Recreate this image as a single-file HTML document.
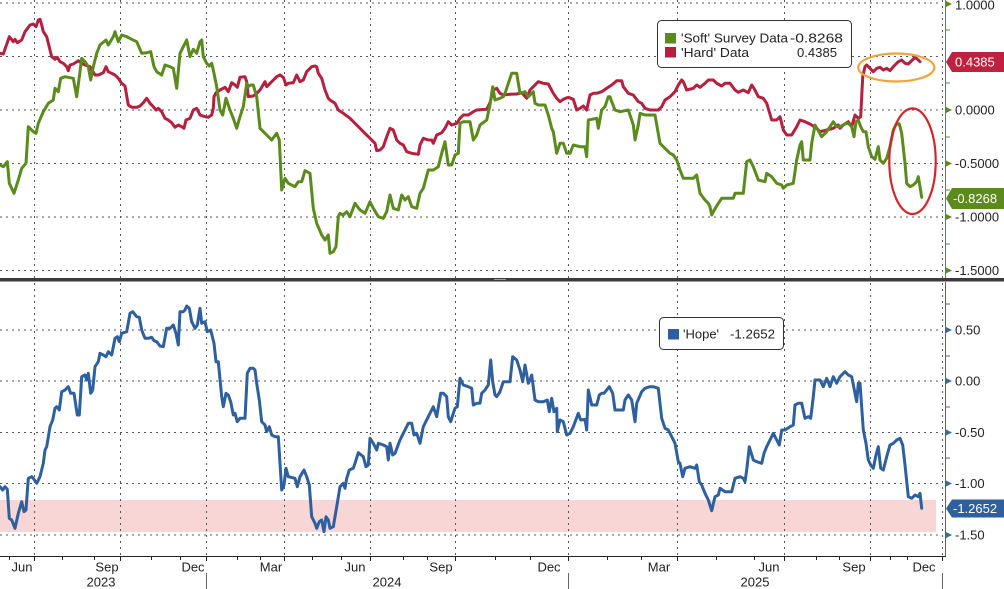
<!DOCTYPE html>
<html>
<head>
<meta charset="utf-8">
<style>
  html,body{margin:0;padding:0;background:#fff;}
  svg{display:block;}
  text{font-family:"Liberation Sans", "DejaVu Sans", sans-serif;}
</style>
</head>
<body>
<svg width="1004" height="589" viewBox="0 0 1004 589" xmlns="http://www.w3.org/2000/svg">
  <rect x="0" y="0" width="1004" height="589" fill="#ffffff"/>

  <rect x="0" y="500" width="936" height="32" fill="#f9d6d6"/>

  <g stroke="#555" stroke-width="1" stroke-dasharray="2 4" fill="none">
    <line x1="0" y1="3" x2="942" y2="3"/>
    <line x1="0" y1="56.5" x2="942" y2="56.5"/>
    <line x1="0" y1="110" x2="942" y2="110"/>
    <line x1="0" y1="163.5" x2="942" y2="163.5"/>
    <line x1="0" y1="217" x2="942" y2="217"/>
    <line x1="0" y1="270.5" x2="942" y2="270.5"/>
    <line x1="0" y1="330" x2="942" y2="330"/>
    <line x1="0" y1="381" x2="942" y2="381"/>
    <line x1="0" y1="432.5" x2="942" y2="432.5"/>
    <line x1="0" y1="483.5" x2="942" y2="483.5"/>
    <line x1="0" y1="535" x2="942" y2="535"/>
    <line x1="34.5" y1="0" x2="34.5" y2="278"/>
    <line x1="120.5" y1="0" x2="120.5" y2="278"/>
    <line x1="206.5" y1="0" x2="206.5" y2="278"/>
    <line x1="284.5" y1="0" x2="284.5" y2="278"/>
    <line x1="370.5" y1="0" x2="370.5" y2="278"/>
    <line x1="455.5" y1="0" x2="455.5" y2="278"/>
    <line x1="568.5" y1="0" x2="568.5" y2="278"/>
    <line x1="677.5" y1="0" x2="677.5" y2="278"/>
    <line x1="784.5" y1="0" x2="784.5" y2="278"/>
    <line x1="870.5" y1="0" x2="870.5" y2="278"/>
    <line x1="942.5" y1="0" x2="942.5" y2="278"/>
    <line x1="34.5" y1="283" x2="34.5" y2="556"/>
    <line x1="120.5" y1="283" x2="120.5" y2="556"/>
    <line x1="206.5" y1="283" x2="206.5" y2="556"/>
    <line x1="284.5" y1="283" x2="284.5" y2="556"/>
    <line x1="370.5" y1="283" x2="370.5" y2="556"/>
    <line x1="455.5" y1="283" x2="455.5" y2="556"/>
    <line x1="568.5" y1="283" x2="568.5" y2="556"/>
    <line x1="677.5" y1="283" x2="677.5" y2="556"/>
    <line x1="784.5" y1="283" x2="784.5" y2="556"/>
    <line x1="870.5" y1="283" x2="870.5" y2="556"/>
    <line x1="942.5" y1="283" x2="942.5" y2="556"/>
  </g>

  <rect x="0" y="278" width="1004" height="3.5" fill="#3c3c3c"/>
  <rect x="494" y="279" width="12" height="1" fill="#999"/>
  <rect x="494" y="281" width="12" height="1" fill="#999"/>

  <polyline fill="none" stroke="#b5203f" stroke-width="3" stroke-linejoin="round" stroke-linecap="round"
    points="0,53.3 3.3,54 9.3,36.7 13.3,41.7 15,39.3 17.3,42.7 21.7,40 25,31.7 30,25 33.3,24 36,26.7 38.3,20 40,19.3 41.7,25 43.3,31.7 46.7,36.7 50,50 51.7,56.7 55,59.3 57.3,57.3 60,61.7 63.3,63.3 66.7,66.7 68.3,70.7 70,65 73.3,64 78.3,60.7 81.7,63.3 85,65 90,66.7 95,75 98.3,75 103.3,72.7 106,66.7 108.3,71.7 115,75 118.3,78.3 121.7,83.3 125,86 128.3,105 131.7,107.3 136.7,107.3 140,106 143.3,102.7 146.7,98.3 150,103.3 153.3,106.7 156,110 158.3,108.3 161.7,111.7 165,118.3 168.3,120 171.7,122.7 175,127.3 178.3,125 181.7,126.7 184,128.3 186,120 190,118.3 193.3,110 196.7,108.3 200,115 205,116.7 208.3,117.3 211.7,115 213.3,108.3 214,96.7 216,92.7 220,90 225,87.3 228.3,91.7 231.7,82.7 235,85 237.3,87.3 240,77.3 245,76.7 246.7,81.7 248.3,96.7 253.3,96 256.7,93.3 260,90 265,81.7 266.7,86.7 271.7,81.7 276.7,76.7 280,75 283.3,77.3 286,85 288.3,83.3 293.3,82.7 296.7,75 300,81.7 303.3,80 306.7,71.7 311.7,66.7 315,66 316.7,66.7 318.3,73.3 321.7,78.3 325,90 328.3,98.3 330,100 335,103.3 338.3,110 343.3,113.3 350,118.3 356.7,125 363.3,131.7 370,138.3 375,143.3 376.7,150.7 380,150 383.3,146.7 386.7,136.7 390,128.3 393.3,130 396.7,140 400,143.3 403.3,145 406.7,151.7 411.7,153.3 418.3,154.3 420,145 423.3,138.3 428.3,140 431.7,140 433.3,143.3 436.7,135 441.7,132.7 445,128.3 448.3,121.7 451.7,125 456.7,123.3 460,118.3 463.3,115 468.3,115 473.3,111.7 476.7,110 486.7,109.3 490,102.7 493.3,90 496.7,88.3 500,93.3 503.3,95 510,94.3 516.7,94 521.7,92.7 526.7,98.3 530,90 533.3,86.7 538.3,81.7 543.3,83.3 548.3,84 553.3,93.3 556.7,98.3 560,101.7 563.3,99.3 568.3,97.3 573.3,99.3 576.7,110 580,108.3 583.3,106 586.7,110 590,95 593.3,93.3 596.7,93.3 601.7,91.7 606.7,88.3 611.7,85 616.7,80.7 621.7,80.7 623.3,86.7 628.3,93.3 633.3,95 638.3,101.7 641.7,103.3 645,108.3 650,110 658.3,110 661.7,106.7 665,100 670,96.7 675,91.7 678.3,85 681.7,80 683.3,81.7 686.7,90 693.3,88.3 696.7,85 700,87.3 705,83.3 708.3,80 713.3,80 716.7,83.3 721.7,86 725,83.3 730,83.3 735,90 738.3,92.3 743.3,90 748.3,92.7 751.7,85 754,88.3 758.3,96.7 763.3,98.3 766.7,103.3 771.7,120 776.7,120 780,116.7 783.3,130 786.7,135 791.7,135 796.7,126.7 800,120 805,121.7 810,124 816.7,128.3 820,131.7 826.7,130 833.3,128.3 838.3,125 840,128.3 843.3,125 848.3,121.7 851.7,126.7 855,115 858.3,118.3 860.7,116.7 862.7,76.7 865,66.7 866.7,65 870,68.3 873.3,71.7 876.7,68.3 880,67.3 883.3,70 886.7,68.3 890,70.7 893.3,66.7 898.3,61.7 901.7,60 905,63.3 908.3,64 911.7,60.7 915,57.3 918.3,60 920,61.7"/>

  <polyline fill="none" stroke="#5a8b1c" stroke-width="3" stroke-linejoin="round" stroke-linecap="round"
    points="0,165 3.3,166.7 7.3,161.7 9.3,183.3 14,193.3 18.3,180 21.7,168.3 26,163.3 28.3,126.7 33.3,131.7 36,133.3 38.3,123.3 43.3,111.7 48.3,103.3 53.3,100 55,88.3 58.3,91.7 60.7,78.3 65,76.7 73.3,78.3 76.7,96.7 80,71.7 81.7,58.3 85,61.7 88.3,66.7 90.7,80 93.3,66.7 96.7,53.3 100,45 106,40 108.3,45 113.3,36.7 115,31.7 118.3,41.7 121.7,35 126.7,36.7 131.7,39.3 136.7,41.7 141.7,53.3 146.7,52.7 150.7,51.7 154,66.7 156.7,71.7 161.7,75 165,65 170,66.7 173.3,68.3 176.7,88.3 180,53.3 183.3,46.7 186.7,40 190,56.7 193.3,49.3 196.7,53.3 200,41.7 201.7,40 203.3,56.7 206.7,63.3 209.3,66 211.7,63.3 213.3,70 216.7,86.7 220,110 222.7,115 226,98.3 230,110 233.3,118.3 236.7,128.3 240,116.7 243.3,106.7 246.7,83.3 248.3,86.7 250.7,85 253.3,85 256.7,96.7 260,128.3 266.7,135 271.7,140 276.7,133.3 279.3,140 281.7,190 285,178.3 288.3,183.3 295,186.7 298.3,181.7 301.7,181.7 305,170.7 310,173.3 313.3,208.3 316.7,223.3 321.7,235 325,240 328.3,235 330,253.3 333.3,251.7 336,246.7 338.3,216.7 340,213.3 343.3,215 346.7,211.7 350,216.7 355,203.3 360,210 365,213.3 370,201.7 373.3,208.3 378.3,216.7 383.3,218.3 386.7,211.7 390,195 393.3,208.3 398.3,210 401.7,195 405,200 408.3,196.7 411.7,206.7 416.7,208.3 420,193.3 423.3,188.3 428.3,170 433.3,170 438.3,166.7 441.7,153.3 445,141.7 448.3,165 451.7,165 455,155 458.3,153.3 460,123.3 463.3,121.7 470,121.7 473.3,140 476.7,135 480,125 486.7,120 490,105 492.7,86.7 495,100 500,98.3 503.3,96.7 505,93.3 511.7,73.3 516.7,73.3 520,93.3 525,91.7 528.3,96.7 533.3,91.7 535,103.3 538.3,105 545,105 548.3,115 551.7,128.3 553.3,131.7 556.7,153.3 560,143.3 563.3,143.3 566.7,153.3 570,153.3 573.3,145 580,146.7 585,146.7 586.7,156.7 588.3,120 596.7,118.3 598.3,128.3 601.7,110 605,106.7 608.3,96.7 610,96.7 611.7,101.7 615,110 620,111.7 628.3,110 633.3,125 635,140 638.3,125 640,113.3 645,115 650,115 655,115 660,143.3 663.3,146.7 666.7,150 670,153.3 673.3,155 676.7,160 680,170 683.3,178.3 690,178.3 693.3,178.3 696.7,175 700,193.3 705,200 708.3,203.3 710,206.7 711.7,215 713.3,211.7 718.3,203.3 721.7,198.3 733.3,198.3 735,193.3 743.3,193.3 746.7,161.7 750,160 753.3,166.7 758.3,180 765,181.7 766.7,173.3 771.7,176.7 776.7,183.3 781.7,185 783.3,188.3 786.7,185 793.3,183.3 796.7,160 800,145 801.7,141.7 803.3,160 810,160 811.7,143.3 815,125 821.7,136.7 826.7,131.7 833.3,121.7 836.7,126.7 840,126.7 845,124 848.3,123.3 851.7,126.7 854,136.7 856,121.7 858.3,120 860.7,126.7 863.3,131.7 866,131.7 868.3,146.7 871.7,156.7 875,159.3 878.3,146.7 880,160 883.3,163.3 886.7,158.3 890,146.7 893.3,130 896.7,123.3 899.3,124 901.7,133.3 905,163.3 906.7,183.3 910,186.7 913.3,185 916.7,181.7 918.3,176.7 920,186.7 921.7,197.3"/>

  <polyline fill="none" stroke="#2e5f9e" stroke-width="3" stroke-linejoin="round" stroke-linecap="round"
    points="0,486.7 2.7,490 5,486.7 7.3,489.3 9.3,518.3 11.7,520 15,528.3 18.3,513.3 21.7,501.7 24,511.7 26,510 28.3,478.3 31.7,476.7 33.3,478.3 36.7,483.3 40,476.7 43.3,463.3 45,450 46.7,446.7 50,426.7 52.7,420 55,408.3 56.7,406.7 59.3,410 61.7,391.7 65,390 68.3,386.7 70.7,393.3 74,393.3 77.3,415 79.3,415 81.7,376.7 85,375 86.7,380 88.3,373.3 90.7,393.3 92.7,390 95,366.7 98.3,361.7 100,353.3 103.3,355 106,356.7 108.3,351.7 111.7,355 115,338.3 117.3,336.7 119.3,341.7 121.7,333.3 126.7,331.7 130,313.3 132.7,311.7 136.7,316.7 139.3,317.3 141.7,330 145,338.3 148.3,338.3 151.7,337.3 154,340.7 156.7,341.7 160,346 163.3,346.7 166.7,328.3 170,328.3 173.3,325 176,333.3 178.3,345 180,311.7 183.3,311.7 185,310 186.7,306 189.3,308.3 191.7,321.7 195,328.3 197.3,325 200,308.3 201.7,323.3 205,321.7 207.3,331.7 210.7,330 214,343.3 216,361.7 218.3,361.7 221.7,396.7 223.3,406.7 226,393.3 228.3,395 230.7,401.7 233.3,415 235,413.3 237.3,421.7 240,418.3 245,418.3 247.3,373.3 250,368.3 253.3,368.3 255,370 256.7,383.3 259.3,400 261.7,421.7 265,425 266.7,431.7 269.3,426.7 271.7,435 275,436.7 278.3,436.7 281.7,490 284,485 286,468.3 288.3,476.7 295,478.3 297.3,486.7 300,476.7 304,470 306.7,476.7 309.3,485 311.7,516.7 315,523.3 316.7,528.3 319.3,521.7 321.7,520 324,531.7 326,516.7 328.3,520 330,528.3 333.3,526.7 336.7,506.7 340,486.7 343.3,483.3 345,488.3 346.7,478.3 349.3,470 353.3,468.3 355,463.3 358.3,452.7 363.3,456.7 366,466.7 368.3,465 370,438.3 373.3,443.3 376.7,450 378.3,443.3 383.3,445 386.7,446.7 388.3,460 390,443.3 392.7,455 395,453.3 400,440 403.3,433.3 405,430 408.3,423.3 411.7,423.3 414,435 416.7,433.3 420,443.3 423.3,426.7 428.3,416.7 433.3,406.7 436.7,416.7 440.7,393.3 443.3,393.3 446.7,396.7 448.3,416.7 450.7,421.7 453.3,413.3 455,408.3 457.3,406.7 460,378.3 463.3,385 468.3,386.7 471.7,388.3 473.3,405 476.7,403.3 480,403.3 481.7,393.3 485,390 488.3,385 490.7,360 492.7,381.7 495,395 496.7,396.7 500,391.7 503.3,381.7 510,381.7 512.7,356.7 516.7,360 520,370 522.7,381.7 525,365 528.3,383.3 530,380 531.7,375 535,400 538.3,401.7 543.3,401.7 547.3,400 549.3,411.7 551.7,398.3 554,411.7 556.7,408.3 557.3,431.7 560,420 563.3,421.7 566.7,435 570,433.3 573.3,426.7 578.3,413.3 580.7,420 585,419.3 586.7,430 588.3,390 591.7,405 596.7,405 599.3,395 601.7,393.3 604,393.3 606.7,390 609.3,386.7 612.7,393.3 615,410 618.3,410 623.3,410 625,400 628.3,395 631.7,400 635,421.7 636.7,403.3 641.7,391.7 645,388.3 650,386.7 653.3,386.7 658.3,388.3 661.7,418.3 665,428.3 668.3,430 671.7,436.7 675,443.3 678.3,461.7 680,463.3 682.7,476.7 685,468.3 690,466.7 695,468.3 696.7,465 699.3,481.7 701.7,485 705,493.3 708.3,500 711.7,510.7 715,496.7 718.3,495 720,488.3 725,491.7 731.7,491.7 735,478.3 740,476.7 743.3,478.3 745,481.7 746.7,470 749.3,446.7 753.3,460 756.7,461.7 761.7,463.3 764,453.3 766.7,446.7 770,440 773.3,433.3 776.7,440 779.3,445 781.7,430 785,430 790,426.7 793.3,425 795,405 798.3,403.3 801.7,403.3 805,418.3 808.3,416.7 810.7,418.3 813.3,396.7 815,380 820,380 823.3,386.7 826.7,378.3 830,386.7 833.3,376.7 836.7,383.3 840,376.7 845,371.7 848.3,375 851.7,376.7 855,393.3 856.7,401.7 858.3,383.3 860,383.3 863.3,430 866,443.3 868.3,460 870.7,465 873.3,468.3 876,455 878.3,446.7 880.7,468.3 883.3,470 886.7,456.7 890,445 893.3,443.3 896.7,440 900,438.3 902.7,445 905,465 908.3,496.7 911.7,498.3 915,495 918.3,496.7 920,493.3 921.7,508.3"/>

  <ellipse cx="896.3" cy="67.5" rx="38" ry="14" fill="none" stroke="#eea43a" stroke-width="2.2"/>
  <ellipse cx="912.5" cy="161.2" rx="23.2" ry="52.8" fill="none" stroke="#d3262a" stroke-width="2.2"/>

  <rect x="657.5" y="20.5" width="194" height="47" rx="4" ry="4" fill="#fff" stroke="#333" stroke-width="1"/>
  <rect x="665" y="33" width="11" height="10.5" fill="#5a8b1c"/>
  <rect x="665" y="47" width="11" height="10.5" fill="#b5203f"/>
  <text x="681" y="42.5" font-size="13" fill="#222" textLength="107" lengthAdjust="spacingAndGlyphs">'Soft' Survey Data</text>
  <text x="790" y="42.5" font-size="13" fill="#222" textLength="53" lengthAdjust="spacingAndGlyphs">-0.8268</text>
  <text x="681" y="57" font-size="13" fill="#222" textLength="68" lengthAdjust="spacingAndGlyphs">'Hard' Data</text>
  <text x="797" y="57" font-size="13" fill="#222" textLength="40" lengthAdjust="spacingAndGlyphs">0.4385</text>

  <rect x="659.5" y="317.5" width="124" height="32" rx="4" ry="4" fill="#fff" stroke="#333" stroke-width="1"/>
  <rect x="668" y="329" width="11" height="10.5" fill="#2e5f9e"/>
  <text x="683" y="338.5" font-size="13" fill="#222">'Hope'</text>
  <text x="730" y="338.5" font-size="13" fill="#222" textLength="45" lengthAdjust="spacingAndGlyphs">-1.2652</text>

  <line x1="945.5" y1="0" x2="945.5" y2="278" stroke="#5a8b1c" stroke-width="1"/>
  <line x1="945.5" y1="282" x2="945.5" y2="557" stroke="#3d6a9e" stroke-width="1"/>

  <g fill="#5a8b1c">
    <polygon points="946,1 952,4 946,7"/>
    <polygon points="946,107 952,110 946,113"/>
    <polygon points="946,160.5 952,163.5 946,166.5"/>
    <polygon points="946,214 952,217 946,220"/>
    <polygon points="946,267.5 952,270.5 946,273.5"/>
  </g>
  <g stroke="#5a8b1c" stroke-width="1">
    <line x1="946" y1="30" x2="950" y2="30"/>
    <line x1="946" y1="83" x2="950" y2="83"/>
    <line x1="946" y1="137" x2="950" y2="137"/>
    <line x1="946" y1="190" x2="950" y2="190"/>
    <line x1="946" y1="244" x2="950" y2="244"/>
  </g>
  <g font-size="13" fill="#222">
    <text x="955" y="9.5">1.0000</text>
    <text x="955" y="114.5">0.0000</text>
    <text x="955" y="168">-0.5000</text>
    <text x="955" y="221.5">-1.0000</text>
    <text x="955" y="275">-1.5000</text>
  </g>

  <g fill="#3d6a9e">
    <polygon points="946,327 952,330 946,333"/>
    <polygon points="946,378 952,381 946,384"/>
    <polygon points="946,429.5 952,432.5 946,435.5"/>
    <polygon points="946,480.5 952,483.5 946,486.5"/>
    <polygon points="946,532 952,535 946,538"/>
  </g>
  <g stroke="#3d6a9e" stroke-width="1">
    <line x1="946" y1="304" x2="950" y2="304"/>
    <line x1="946" y1="356" x2="950" y2="356"/>
    <line x1="946" y1="407" x2="950" y2="407"/>
    <line x1="946" y1="458" x2="950" y2="458"/>
  </g>
  <g font-size="13" fill="#222">
    <text x="955" y="334.5">0.50</text>
    <text x="955" y="385.5">0.00</text>
    <text x="955" y="437">-0.50</text>
    <text x="955" y="488">-1.00</text>
    <text x="955" y="539.5">-1.50</text>
  </g>

  <polygon points="946,62 952,52 1004,52 1004,72 952,72" fill="#c0213f"/>
  <text x="955" y="66.5" font-size="13" fill="#fff">0.4385</text>
  <polygon points="946,198.5 952,188 1004,188 1004,209 952,209" fill="#5a8b1c"/>
  <text x="953" y="203" font-size="13" fill="#fff">-0.8268</text>
  <polygon points="946,508.5 952,499.5 1004,499.5 1004,517.5 952,517.5" fill="#2e5f9e"/>
  <text x="953" y="513" font-size="13" fill="#fff">-1.2652</text>

  <line x1="0" y1="556.5" x2="946" y2="556.5" stroke="#222" stroke-width="1"/>
  <g stroke="#222" stroke-width="1">
    <line x1="9.5" y1="556" x2="9.5" y2="560"/>
    <line x1="34.5" y1="556" x2="34.5" y2="561"/>
    <line x1="62.5" y1="556" x2="62.5" y2="560"/>
    <line x1="94.5" y1="556" x2="94.5" y2="560"/>
    <line x1="120.5" y1="556" x2="120.5" y2="561"/>
    <line x1="151.5" y1="556" x2="151.5" y2="560"/>
    <line x1="180.5" y1="556" x2="180.5" y2="560"/>
    <line x1="206.5" y1="556" x2="206.5" y2="561"/>
    <line x1="237.5" y1="556" x2="237.5" y2="560"/>
    <line x1="260.5" y1="556" x2="260.5" y2="560"/>
    <line x1="284.5" y1="556" x2="284.5" y2="561"/>
    <line x1="312.5" y1="556" x2="312.5" y2="560"/>
    <line x1="341.5" y1="556" x2="341.5" y2="560"/>
    <line x1="370.5" y1="556" x2="370.5" y2="561"/>
    <line x1="403.5" y1="556" x2="403.5" y2="560"/>
    <line x1="427.5" y1="556" x2="427.5" y2="560"/>
    <line x1="455.5" y1="556" x2="455.5" y2="561"/>
    <line x1="495.5" y1="556" x2="495.5" y2="560"/>
    <line x1="530.5" y1="556" x2="530.5" y2="560"/>
    <line x1="568.5" y1="556" x2="568.5" y2="561"/>
    <line x1="607.5" y1="556" x2="607.5" y2="560"/>
    <line x1="641.5" y1="556" x2="641.5" y2="560"/>
    <line x1="677.5" y1="556" x2="677.5" y2="561"/>
    <line x1="716.5" y1="556" x2="716.5" y2="560"/>
    <line x1="754.5" y1="556" x2="754.5" y2="560"/>
    <line x1="784.5" y1="556" x2="784.5" y2="561"/>
    <line x1="816.5" y1="556" x2="816.5" y2="560"/>
    <line x1="839.5" y1="556" x2="839.5" y2="560"/>
    <line x1="870.5" y1="556" x2="870.5" y2="561"/>
    <line x1="890.5" y1="556" x2="890.5" y2="560"/>
    <line x1="907.5" y1="556" x2="907.5" y2="560"/>
    <line x1="942.5" y1="556" x2="942.5" y2="561"/>
  </g>
  <g font-size="13" fill="#222" text-anchor="middle">
    <text x="22" y="571.5">Jun</text>
    <text x="107" y="571.5">Sep</text>
    <text x="193" y="571.5">Dec</text>
    <text x="271" y="571.5">Mar</text>
    <text x="355" y="571.5">Jun</text>
    <text x="441" y="571.5">Sep</text>
    <text x="549" y="571.5">Dec</text>
    <text x="659" y="571.5">Mar</text>
    <text x="769" y="571.5">Jun</text>
    <text x="854" y="571.5">Sep</text>
    <text x="924" y="571.5">Dec</text>
    <text x="101" y="586.5">2023</text>
    <text x="387" y="586.5">2024</text>
    <text x="755" y="586.5">2025</text>
  </g>
  <g stroke="#666" stroke-width="1">
    <line x1="206.5" y1="573" x2="206.5" y2="589"/>
    <line x1="568.5" y1="573" x2="568.5" y2="589"/>
    <line x1="942.5" y1="573" x2="942.5" y2="589"/>
  </g>
</svg>
</body>
</html>
